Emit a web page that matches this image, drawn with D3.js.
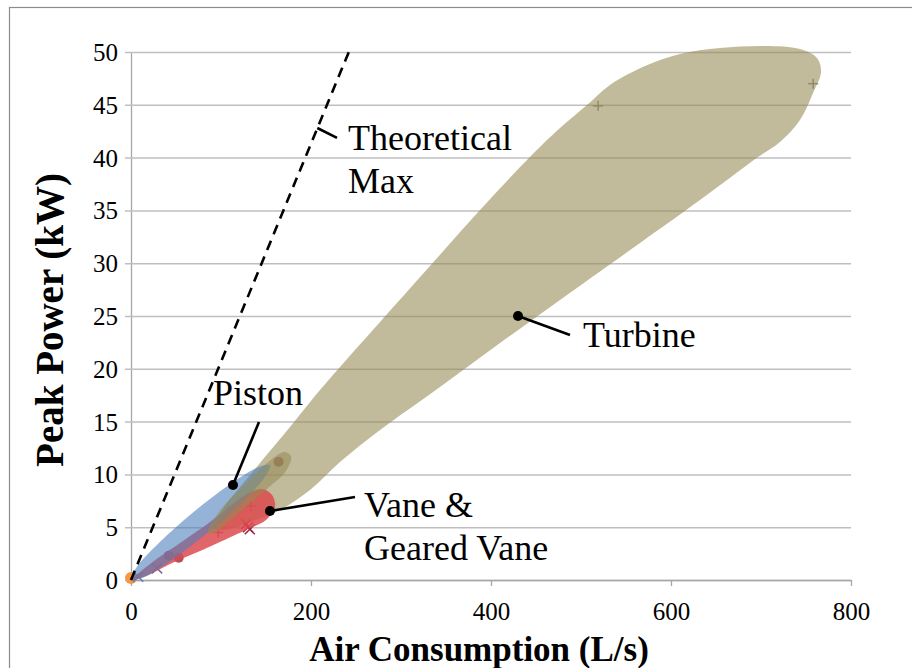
<!DOCTYPE html>
<html>
<head>
<meta charset="utf-8">
<script src="https://cdn.jsdelivr.net/npm/d3@7"></script>
<style>
  body { margin: 0; background: #fff; }
  svg { display: block; }
  text { font-family: "Liberation Serif", "DejaVu Serif", "Times New Roman", serif; fill: #000; }
</style>
</head>
<body>
<svg id="chart" width="912" height="668"></svg>
<script>
// Axis ticks
const xTicks = [0, 200, 400, 600, 800];
const yTicks = [0, 5, 10, 15, 20, 25, 30, 35, 40, 45, 50];

// Theoretical maximum power line (L/s, kW)
const theoreticalMax = [[0, 0], [242, 50]];

// Envelope outlines for each motor family (L/s, kW)
const turbineOutline = [[91.1,4.92],[101.1,6.63],[121.1,8.81],[143.3,11.08],[176.7,14.49],[210.0,17.99],[276.7,24.43],[332.2,29.73],[387.8,35.04],[443.3,40.06],[476.7,42.80],[506.7,44.98],[532.2,46.88],[571.1,48.67],[610.0,49.81],[654.4,50.38],[704.4,50.57],[743.3,50.28],[762.2,49.43],[766.7,48.11],[757.8,46.12],[743.3,43.56],[721.1,41.48],[696.7,40.06],[632.2,35.98],[565.6,31.91],[476.7,26.52],[410.0,22.44],[343.3,18.28],[276.7,14.20],[232.2,11.17],[198.9,8.52],[165.6,6.63],[132.2,5.49],[104.4,4.73]];
const vaneOutline = [[1.1,0],[21.1,1.52],[57.8,3.69],[87.8,5.49],[110.0,7.01],[128.9,8.14],[145.6,8.62],[156.7,8.05],[160.0,6.91],[150.0,5.68],[130.0,4.83],[113.3,4.17],[76.7,2.75],[43.3,1.52],[16.7,0.38]];
const pistonOutline = [[154.3,10.88],[148.4,9.70],[123.4,7.38],[86.1,4.54],[46.3,1.94],[14.9,0.28],[0.1,0.01],[6.0,1.19],[31.0,3.51],[68.3,6.35],[108.1,8.95],[139.6,10.61]];
const smallTurbineOutline = [[85.6,4.55],[96.7,6.34],[115.6,8.14],[137.8,10.04],[156.7,11.46],[170.0,12.12],[177.8,11.74],[172.2,10.32],[152.2,8.71],[130.0,7.10],[107.8,5.49],[91.1,4.36]];

// Individual motor data points (L/s, kW)
const orangeCircles = [[0, 0.2]];
const blueCrosses = [[8, 0.3]];
const purpleCrosses = [[29, 1.1]];
const redCircles = [[42, 2.3], [53, 2.1], [164, 11.2]];
const redPluses = [[97, 4.5], [133, 7.0]];
const redCrosses = [[128, 5.3], [130, 5.0], [132, 4.8]];
const grayPluses = [[519, 44.9], [758, 47.0]];

// Callouts: anchor point, leader end, label position (all in L/s, kW)
const callouts = [
  { lines: ["Theoretical", "Max"], start: [207, 42.8], end: [228.9, 41.86], label: [241.1, 40.72], dot: false },
  { lines: ["Piston"], start: [113.3, 9.0], end: [142.2, 14.96], label: [91.1, 16.57], dot: true },
  { lines: ["Vane &", "Geared Vane"], start: [154.4, 6.53], end: [248.9, 7.86], label: [258.9, 5.97], dot: true },
  { lines: ["Turbine"], start: [430, 25.0], end: [487.8, 23.2], label: [502.2, 22.06], dot: true }
];

const svg = d3.select("#chart");
const x = d3.scaleLinear().domain([0, 800]).range([131, 851]);
const y = d3.scaleLinear().domain([0, 50]).range([580, 52]);

// Outer frame
svg.append("rect").attr("x", 9.5).attr("y", 7.5).attr("width", 920).attr("height", 680)
  .attr("fill", "#fff").attr("stroke", "#8c8c8c").attr("stroke-width", 1.2);

// Horizontal gridlines with y-axis
const yAxis = svg.append("g").attr("transform", `translate(${x(0)},0)`)
  .call(d3.axisLeft(y).tickValues(yTicks).tickSizeInner(-(x(800) - x(0))).tickSizeOuter(0).tickPadding(13));
yAxis.attr("font-family", null);
yAxis.select(".domain").attr("stroke", "#a6a6a6").attr("stroke-width", 1.3);
yAxis.selectAll(".tick line").attr("x1", -6).attr("stroke", "#bfbfbf").attr("stroke-width", 1.5);
yAxis.selectAll(".tick text").attr("font-size", 25).attr("dy", "0.34em");

// X axis
const xAxis = svg.append("g").attr("transform", `translate(0,${y(0)})`)
  .call(d3.axisBottom(x).tickValues(xTicks).tickSizeInner(6).tickSizeOuter(0).tickPadding(16));
xAxis.attr("font-family", null);
xAxis.select(".domain").attr("stroke", "#a6a6a6").attr("stroke-width", 1.5);
xAxis.selectAll(".tick line").attr("stroke", "#a6a6a6").attr("stroke-width", 1.3);
xAxis.selectAll(".tick text").attr("font-size", 25);

// Data markers
const markers = svg.append("g");
function crosses(data, color, plus) {
  const s = 5;
  data.forEach(d => {
    const cx = x(d[0]), cy = y(d[1]);
    const segs = plus ? [[cx - s, cy, cx + s, cy], [cx, cy - s, cx, cy + s]]
                      : [[cx - s, cy - s, cx + s, cy + s], [cx - s, cy + s, cx + s, cy - s]];
    segs.forEach(g => markers.append("line").attr("x1", g[0]).attr("y1", g[1]).attr("x2", g[2]).attr("y2", g[3])
      .attr("stroke", color).attr("stroke-width", 1.5));
  });
}
markers.selectAll(".oc").data(orangeCircles).join("circle").attr("cx", d => x(d[0])).attr("cy", d => y(d[1]))
  .attr("r", 6).attr("fill", "#f79646");
markers.selectAll(".rc").data(redCircles).join("circle").attr("cx", d => x(d[0])).attr("cy", d => y(d[1]))
  .attr("r", 5).attr("fill", "#b05060");
crosses(blueCrosses, "#4f81bd", false);
crosses(purpleCrosses, "#8064a2", false);
crosses(redPluses, "#c0504d", true);
crosses(redCrosses, "#a0203a", false);
crosses(grayPluses, "#8a8a8a", true);

// Envelopes
const outline = d3.line().x(d => x(d[0])).y(d => y(d[1])).curve(d3.curveCatmullRomClosed.alpha(0.5));
svg.append("path").attr("d", outline(turbineOutline)).attr("fill", "#948a54").attr("fill-opacity", 0.58);
svg.append("path").attr("d", outline(vaneOutline)).attr("fill", "#dc4a4f").attr("fill-opacity", 0.85);
svg.append("path").attr("d", outline(pistonOutline)).attr("fill", "#4f81bd").attr("fill-opacity", 0.6);
svg.append("path").attr("d", outline(smallTurbineOutline)).attr("fill", "#948a54").attr("fill-opacity", 0.55);

// Theoretical maximum
svg.append("path").attr("d", d3.line().x(d => x(d[0])).y(d => y(d[1]))(theoreticalMax))
  .attr("stroke", "#000").attr("stroke-width", 2.6).attr("stroke-dasharray", "10,7").attr("fill", "none");

// Callouts
callouts.forEach(c => {
  svg.append("line").attr("x1", x(c.start[0])).attr("y1", y(c.start[1]))
    .attr("x2", x(c.end[0])).attr("y2", y(c.end[1])).attr("stroke", "#000").attr("stroke-width", 2.6);
  if (c.dot) svg.append("circle").attr("cx", x(c.start[0])).attr("cy", y(c.start[1])).attr("r", 5).attr("fill", "#000");
  c.lines.forEach((t, i) => svg.append("text").attr("x", x(c.label[0])).attr("y", y(c.label[1]) + i * 43)
    .attr("font-size", 36).text(t));
});

// Axis titles
svg.append("text").attr("x", 479).attr("y", 661).attr("text-anchor", "middle")
  .attr("font-size", 35).attr("font-weight", "bold").text("Air Consumption (L/s)");
svg.append("text").attr("transform", "translate(63,320) rotate(-90)").attr("text-anchor", "middle")
  .attr("font-size", 39).attr("font-weight", "bold").text("Peak Power (kW)");
</script>
</body>
</html>
